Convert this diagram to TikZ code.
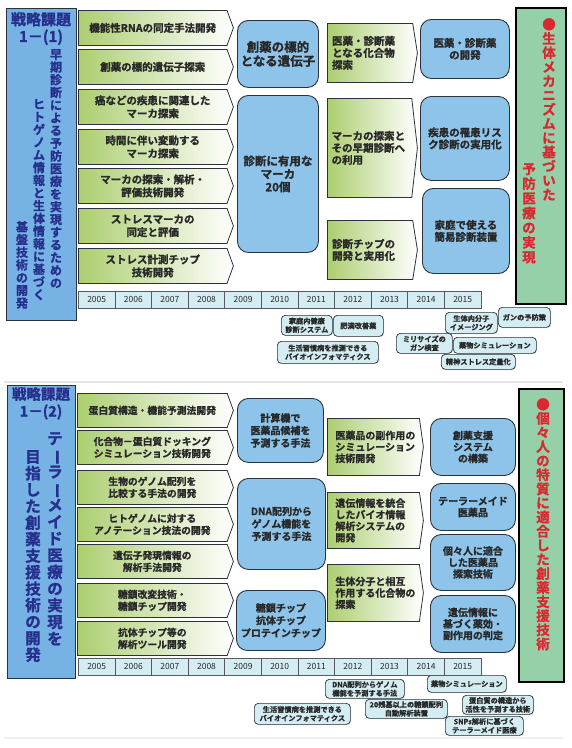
\documentclass[tikz,border=0pt]{standalone}
\usepackage{fontspec}
\setmainfont{Noto Sans CJK JP}[BoldFont={Noto Sans CJK JP Bold}, BoldFeatures={FakeBold=1.3}]
\usepackage{graphicx}
\definecolor{jpnavy}{RGB}{38,48,140}
\definecolor{jpred}{RGB}{218,40,48}
\definecolor{jpink}{RGB}{40,40,40}
\definecolor{jpline}{RGB}{45,50,58}
\definecolor{jpgreen}{RGB}{172,206,112}
\definecolor{jpblue}{RGB}{142,196,234}
\definecolor{jpskyD}{RGB}{118,178,228}
\definecolor{jpskyL}{RGB}{206,234,250}
\definecolor{jpmintD}{RGB}{150,208,168}
\definecolor{jpmintL}{RGB}{214,240,220}
\definecolor{jpcyan}{RGB}{212,237,242}
\usetikzlibrary{shapes.symbols,shadows}
\makeatletter
\def\tate@#1#2\@nil{#1\ifx\relax#2\relax\expandafter\@gobble\else\expandafter\@firstofone\fi{\\\tate@#2\@nil}}
\newcommand\tate[1]{\tate@#1\@nil}
\makeatother
\newcommand\vbar{\rotatebox[origin=c]{-90}{ー}}
\tikzset{
    lane/.style={
        shape=signal, signal to=east, signal pointer angle=140,
        draw=jpline, line width=0.8pt, left color=jpgreen, right color=white,
        minimum width=155pt, minimum height=35pt, anchor=north west,
        inner sep=0pt, align=center, text=jpink,
        font=\fontsize{10.5}{13}\selectfont\bfseries
    },
    route/.style={
        shape=signal, signal to=east, signal pointer angle=#1,
        draw=jpline, line width=0.8pt, left color=jpgreen, right color=white,
        anchor=north west, inner xsep=4pt, inner ysep=0pt, text width=76pt,
        align=left, text=jpink, font=\fontsize{10.5}{12}\selectfont\bfseries
    },
    route/.default=162,
    goal/.style={
        draw=jpline, line width=0.9pt, fill=jpblue, rounded corners=11pt,
        anchor=north west, inner sep=0pt, align=center, text=jpink,
        font=\fontsize{10.5}{12}\selectfont\bfseries
    },
    band/.style={
        draw=jpline, line width=1pt, left color=jpskyD, middle color=jpskyL,
        right color=jpskyD, anchor=north west, inner sep=0pt
    },
    aim/.style={
        draw=black, line width=1.6pt, left color=jpmintD, middle color=jpmintL,
        right color=jpmintD, anchor=north west, inner sep=0pt
    },
    title/.style={
        anchor=north, inner sep=0pt, align=center, text=jpnavy,
        font=\fontsize{15}{17}\selectfont\bfseries
    },
    tateL/.style={
        anchor=north, inner sep=0pt, align=center, text=jpnavy,
        font=\fontsize{12}{12.7}\selectfont\bfseries
    },
    tateR/.style={
        anchor=north, inner sep=0pt, align=center, text=jpred,
        font=\fontsize{13.5}{14.2}\selectfont\bfseries
    },
    year/.style={
        draw=jpline!80, line width=0.7pt, fill=jpcyan, anchor=north west,
        minimum width=36.7pt, minimum height=17pt, inner sep=0pt,
        text=jpink, font=\fontsize{8.5}{9}\selectfont
    },
    tag/.style={
        draw=jpline, line width=0.7pt, fill=jpcyan, rounded corners=4pt,
        anchor=north west, inner sep=0pt, align=center, text=jpink,
        font=\fontsize{7.2}{8.6}\selectfont\bfseries,
        drop shadow={shadow xshift=0.8pt, shadow yshift=-0.8pt, opacity=0.35}
    }
}
\begin{document}
\begin{tikzpicture}[x=1pt, y=-1pt]
    \useasboundingbox (0,0) rectangle (572,748);
    \draw[black!10, line width=1.2pt] (4,382) -- (563,382);
    \draw[black!6, line width=1.2pt] (4,738) -- (563,738);

    % ---- 戦略課題 1-(1) ----
    \node[band, minimum width=70pt, minimum height=312pt] (s1) at (6,8) {};
    \node[title] (s1t) at (41,12) {戦略課題\\1－(1)};
    \node[tateL] (s1a) at (56,49) {\tate{早期診断による予防医療を実現するための}};
    \node[tateL] (s1b) at (39,99) {\tate{ヒトゲノム情報と生体情報に基づく}};
    \node[tateL] (s1c) at (22,221) {\tate{基盤技術の開発}};

    \node[lane] (a1) at (78,10)  {機能性RNAの同定手法開発};
    \node[lane] (a2) at (78,49)  {創薬の標的遺伝子探索};
    \node[lane] (a3) at (78,89)  {癌などの疾患に関連した\\マーカ探索};
    \node[lane] (a4) at (78,129) {時間に伴い変動する\\マーカ探索};
    \node[lane] (a5) at (78,168) {マーカの探索・解析・\\評価技術開発};
    \node[lane] (a6) at (78,208) {ストレスマーカの\\同定と評価};
    \node[lane] (a7) at (78,248) {ストレス計測チップ\\技術開発};

    \node[goal, minimum width=81pt, minimum height=67pt, font=\fontsize{12.5}{14}\selectfont\bfseries] (b1) at (237,20) {創薬の標的\\となる遺伝子};
    \node[goal, minimum width=81pt, minimum height=157pt, font=\fontsize{11.5}{13}\selectfont\bfseries] (b2) at (237,95) {診断に有用な\\マーカ\\20個};

    \node[route, minimum width=90pt, minimum height=59pt] (c1) at (327,23) {医薬・診断薬\\となる化合物\\探索};
    \node[route=167, minimum width=90pt, minimum height=99pt] (c2) at (327,98) {マーカの探索と\\その早期診断へ\\の利用};
    \node[route, minimum width=90pt, minimum height=59pt] (c3) at (327,220) {診断チップの\\開発と実用化};

    \node[goal, minimum width=89pt, minimum height=59pt] (d1) at (420,19) {医薬・診断薬\\の開発};
    \node[goal, minimum width=89pt, minimum height=84pt] (d2) at (420,96) {疾患の罹患リス\\ク診断の実用化};
    \node[goal, minimum width=87pt, minimum height=85pt] (d3) at (422,188) {家庭で使える\\簡易診断装置};

    \node[aim, minimum width=50pt, minimum height=296pt] (r1) at (515,7) {};
    \node[tateR] (r1a) at (549,18) {\tate{●生体メカニズムに基づいた}};
    \node[tateR, font=\fontsize{13.5}{14.7}\selectfont\bfseries] (r1b) at (529,163) {\tate{予防医療の実現}};

    \node[tag, minimum width=51pt, minimum height=20pt] (p1) at (281,315) {家庭内健康\\診断システム};
    \node[tag, minimum width=50pt, minimum height=21pt] (p2) at (333,315) {肥満改善薬};
    \node[tag, minimum width=101pt, minimum height=22pt] (p3) at (277,341) {生活習慣病を推測できる\\バイオインフォマティクス};
    \node[tag, minimum width=52pt, minimum height=21pt] (p4) at (445,312) {生体内分子\\イメージング};
    \node[tag, minimum width=52pt, minimum height=20pt] (p5) at (498,307) {ガンの予防策};
    \node[tag, minimum width=56pt, minimum height=20pt] (p6) at (396,333) {ミリサイズの\\ガン検査};
    \node[tag, minimum width=83pt, minimum height=16pt] (p7) at (453,337) {薬物シミュレーション};
    \node[tag, minimum width=74pt, minimum height=15pt] (p8) at (441,354) {精神ストレス定量化};

    % ---- 戦略課題 1-(2) ----
    \node[band, minimum width=68pt, minimum height=293pt] (s2) at (7,385) {};
    \node[title, font=\fontsize{14.5}{17}\selectfont\bfseries] (s2t) at (41,387) {戦略課題\\1－(2)};
    \node[tateL, font=\fontsize{15.5}{16.7}\selectfont\bfseries] (s2a) at (55,432) {\tate{テ\vbar ラ\vbar メイド医療の実現を}};
    \node[tateL, font=\fontsize{15.5}{16.5}\selectfont\bfseries] (s2b) at (33,450) {\tate{目指した創薬支援技術の開発}};

    \node[lane, minimum width=156pt, minimum height=34pt, font=\fontsize{9.8}{12}\selectfont\bfseries] (e1) at (77,393) {蛋白質構造・機能予測法開発};
    \node[lane, minimum width=156pt, minimum height=34pt, font=\fontsize{9.8}{12}\selectfont\bfseries] (e2) at (77,430) {化合物－蛋白質ドッキング\\シミュレーション技術開発};
    \node[lane, minimum width=156pt, minimum height=34pt, font=\fontsize{9.8}{12}\selectfont\bfseries] (e3) at (77,470) {生物のゲノム配列を\\比較する手法の開発};
    \node[lane, minimum width=156pt, minimum height=34pt, font=\fontsize{9.8}{12}\selectfont\bfseries] (e4) at (77,507) {ヒトゲノムに対する\\アノテーション技法の開発};
    \node[lane, minimum width=156pt, minimum height=34pt, font=\fontsize{9.8}{12}\selectfont\bfseries] (e5) at (77,544) {遺伝子発現情報の\\解析手法開発};
    \node[lane, minimum width=156pt, minimum height=34pt, font=\fontsize{9.8}{12}\selectfont\bfseries] (e6) at (77,583) {糖鎖改変技術・\\糖鎖チップ開発};
    \node[lane, minimum width=156pt, minimum height=34pt, font=\fontsize{9.8}{12}\selectfont\bfseries] (e7) at (77,621) {抗体チップ等の\\解析ツール開発};

    \node[goal, minimum width=86pt, minimum height=64pt, font=\fontsize{10}{12.5}\selectfont\bfseries] (f1) at (237,398) {計算機で\\医薬品候補を\\予測する手法};
    \node[goal, minimum width=88pt, minimum height=91pt, font=\fontsize{10}{12.5}\selectfont\bfseries] (f2) at (237,478) {DNA配列から\\ゲノム機能を\\予測する手法};
    \node[goal, minimum width=89pt, minimum height=60pt, font=\fontsize{10}{12.5}\selectfont\bfseries] (f3) at (236,590) {糖鎖チップ\\抗体チップ\\プロテインチップ};

    \node[route=164, minimum width=96pt, minimum height=57pt, font=\fontsize{10}{11.5}\selectfont\bfseries] (h1) at (327,418) {医薬品の副作用の\\シミュレーション\\技術開発};
    \node[route=164, minimum width=96pt, minimum height=56pt, font=\fontsize{10}{11.5}\selectfont\bfseries] (h2) at (327,492) {遺伝情報を統合\\したバイオ情報\\解析システムの\\開発};
    \node[route=164, minimum width=96pt, minimum height=57pt, font=\fontsize{10}{11.5}\selectfont\bfseries] (h3) at (327,564) {生体分子と相互\\作用する化合物の\\探索};

    \node[goal, minimum width=85pt, minimum height=57pt, font=\fontsize{10}{11.5}\selectfont\bfseries] (k1) at (430,418) {創薬支援\\システム\\の構築};
    \node[goal, minimum width=85pt, minimum height=47pt, font=\fontsize{10}{11.5}\selectfont\bfseries] (k2) at (430,483) {テーラーメイド\\医薬品};
    \node[goal, minimum width=85pt, minimum height=56pt, font=\fontsize{10}{11.5}\selectfont\bfseries] (k3) at (430,534) {個々人に適合\\した医薬品\\探索技術};
    \node[goal, minimum width=85pt, minimum height=57pt, font=\fontsize{10}{11.5}\selectfont\bfseries] (k4) at (430,595) {遺伝情報に\\基づく薬効・\\副作用の判定};

    \node[aim, minimum width=45pt, minimum height=293pt] (r2) at (518,388) {};
    \node[tateR, font=\fontsize{13.5}{14.1}\selectfont\bfseries] (r2a) at (543,398) {\tate{●個々人の特質に適合した創薬支援技術}};

    \node[tag, minimum width=79pt, minimum height=19pt] (q1) at (325,679) {DNA配列からゲノム\\機能を予測する手法};
    \node[tag, minimum width=96pt, minimum height=21pt] (q2) at (254,703) {生活習慣病を推測できる\\バイオインフォマティクス};
    \node[tag, minimum width=82pt, minimum height=19pt] (q3) at (365,699) {20残基以上の糖鎖配列\\自動解析装置};
    \node[tag, minimum width=79pt, minimum height=17pt] (q4) at (427,675) {薬物シミュレーション};
    \node[tag, minimum width=71pt, minimum height=19pt] (q5) at (462,695) {蛋白質の構造から\\活性を予測する技術};
    \node[tag, minimum width=78pt, minimum height=19pt] (q6) at (445,716) {SNPs解析に基づく\\テーラーメイド医療};

    % timelines
    \foreach \yr [count=\i from 0] in {2005,...,2015} {
        \node[year] (ya\i) at ({78+36.6*\i},291) {\yr};
        \node[year] (yb\i) at ({78+36.6*\i},658) {\yr};
    }
\end{tikzpicture}
\end{document}
